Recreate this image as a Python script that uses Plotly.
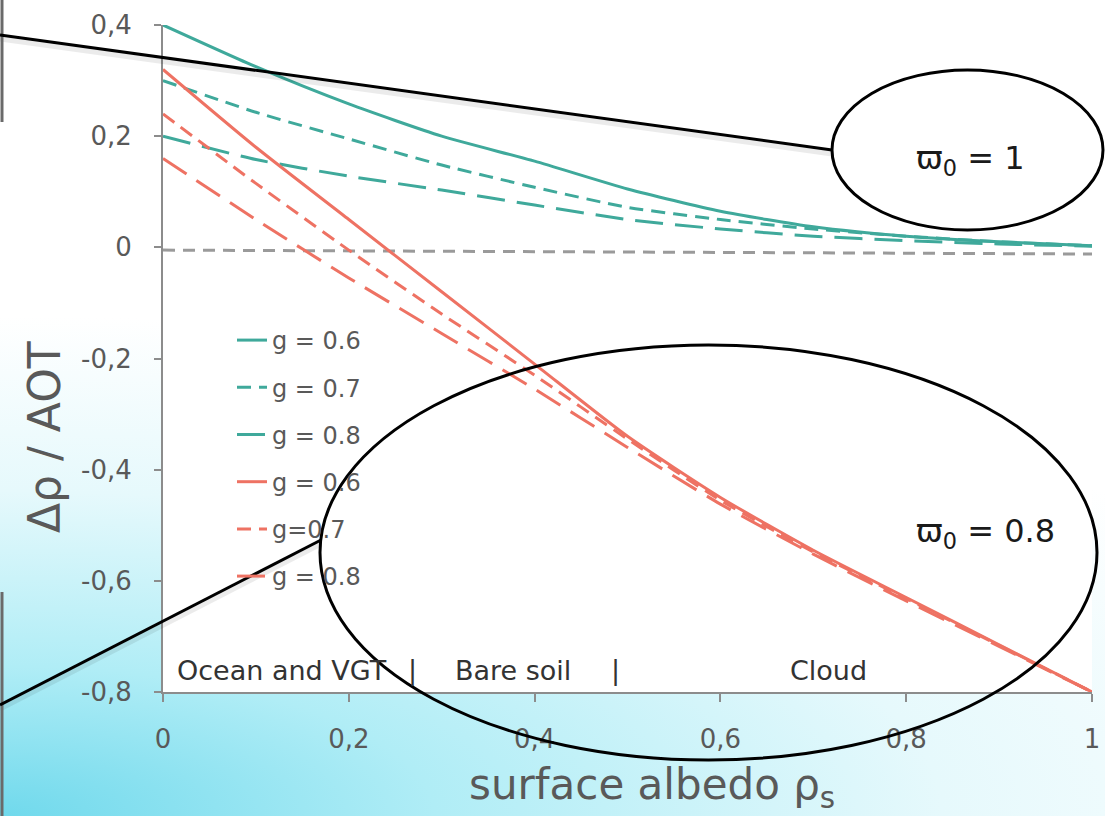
import base64
import plotly.graph_objects as go

# ---------------- data ----------------
rho = [0.0, 0.1, 0.2, 0.3, 0.4, 0.5, 0.6, 0.7, 0.8, 0.9, 1.0]

# single scattering albedo = 1 (teal)
w1_g06 = [0.400, 0.325, 0.258, 0.200, 0.155, 0.105, 0.065, 0.037, 0.020, 0.010, 0.003]
w1_g07 = [0.300, 0.243, 0.195, 0.148, 0.108, 0.072, 0.050, 0.033, 0.020, 0.010, 0.003]
w1_g08 = [0.200, 0.158, 0.128, 0.103, 0.076, 0.050, 0.033, 0.020, 0.012, 0.006, 0.002]

# single scattering albedo = 0.8 (red)
w08_g06 = [0.320, 0.180, 0.050, -0.080, -0.210, -0.340, -0.450, -0.545, -0.630, -0.715, -0.800]
w08_g07 = [0.240, 0.115, -0.005, -0.120, -0.230, -0.345, -0.455, -0.548, -0.632, -0.716, -0.800]
w08_g08 = [0.160, 0.050, -0.055, -0.155, -0.255, -0.360, -0.462, -0.552, -0.636, -0.718, -0.800]

zero_x = [0.0, 1.0]
zero_y = [-0.005, -0.012]

legend_names = ["g = 0.6", "g = 0.7", "g = 0.8", "g = 0.6", "g=0.7", "g = 0.8"]

x_tickvals = [0, 0.2, 0.4, 0.6, 0.8, 1.0]
x_ticktext = ["0", "0,2", "0,4", "0,6", "0,8", "1"]
y_tickvals = [-0.8, -0.6, -0.4, -0.2, 0, 0.2, 0.4]
y_ticktext = ["-0,8", "-0,6", "-0,4", "-0,2", "0", "0,2", "0,4"]

region_labels = ["Ocean and VGT", "|", "Bare soil", "|", "Cloud"]

# ---------------- layout helpers ----------------
W, H = 1105, 816
L, R, T, B = 163, 13, 25, 124
PW, PH = W - L - R, H - T - B


def px(x):
    return (x - L) / PW


def py(y):
    return (H - B - y) / PH


TEAL = "#3fa99b"
RED = "#ee7263"
GREY_TXT = "#595959"
FONT = "DejaVu Sans"

fig = go.Figure()

fig.add_trace(go.Scatter(x=zero_x, y=zero_y, mode="lines", showlegend=False,
                         line=dict(color="#9a9a9a", width=3, dash="12px,8px"),
                         cliponaxis=False, hoverinfo="skip"))

series = [
    (w1_g06, TEAL, "solid"),
    (w1_g07, TEAL, "14px,8px"),
    (w1_g08, TEAL, "28px,12px"),
    (w08_g06, RED, "solid"),
    (w08_g07, RED, "14px,8px"),
    (w08_g08, RED, "28px,12px"),
]
for i, (ys, col, dash) in enumerate(series):
    fig.add_trace(go.Scatter(x=rho, y=ys, mode="lines", name=legend_names[i],
                             legendgroup=f"g{i}",
                             line=dict(color=col, width=3, dash=dash, shape="spline", smoothing=0.6),
                             cliponaxis=False))

# ---------------- background gradient ----------------
plot_rect = f'<rect x="{L}" y="{T}" width="{PW}" height="{PH}" fill="#ffffff"/>'
svg = f'''<svg xmlns="http://www.w3.org/2000/svg" width="{W}" height="{H}" viewBox="0 0 {W} {H}">
<defs>
<radialGradient id="g" gradientUnits="userSpaceOnUse" cx="0" cy="{H}" r="1"
 gradientTransform="translate(0 {H}) scale(1450 500) translate(0 -{H})">
<stop offset="0" stop-color="#70d9ec"/>
<stop offset="0.3" stop-color="#b0edf6"/>
<stop offset="0.65" stop-color="#e6f9fc"/>
<stop offset="1" stop-color="#ffffff"/>
</radialGradient>
</defs>
<rect x="0" y="0" width="{W}" height="{H}" fill="url(#g)"/>
{plot_rect}
</svg>'''
src = "data:image/svg+xml;base64," + base64.b64encode(svg.encode()).decode()

fig.add_layout_image(dict(source=src, xref="paper", yref="paper",
                          x=px(0), y=py(0), sizex=W / PW, sizey=H / PH,
                          xanchor="left", yanchor="top", sizing="stretch", layer="below"))

# ---------------- shapes (callouts) ----------------
shapes = []


def line(x0, y0, x1, y1, color="black", width=3):
    shapes.append(dict(type="line", xref="paper", yref="paper",
                       x0=px(x0), y0=py(y0), x1=px(x1), y1=py(y1),
                       line=dict(color=color, width=width), layer="above"))


def ellipse(x0, y0, x1, y1):
    shapes.append(dict(type="circle", xref="paper", yref="paper",
                       x0=px(x0), y0=py(y1), x1=px(x1), y1=py(y0),
                       line=dict(color="black", width=3), layer="above"))


# subtle shadows
line(0, 39, 832, 154, color="rgba(0,0,0,0.08)", width=5)
line(0, 709, 321, 544, color="rgba(0,0,0,0.08)", width=5)
# left-edge grey lines
line(2, 0, 2, 122, color="#6a6a6a", width=3)
line(2, 592, 2, 816, color="#6a6a6a", width=3)
# callout lines and ellipses
line(0, 35, 832, 150)
ellipse(832, 70, 1103, 230)
line(0, 705, 321, 540)
ellipse(320, 345, 1097, 760)

# ---------------- annotations ----------------
ann = []


def text(x, y, s, size, color, angle=0):
    ann.append(dict(x=px(x), y=py(y), xref="paper", yref="paper", text=s, showarrow=False,
                    xanchor="center", yanchor="middle", textangle=angle,
                    font=dict(family=FONT, size=size, color=color)))


text(970, 160, "ϖ<sub>0</sub> = 1", 32, "#1a1a1a")
text(985, 533, "ϖ<sub>0</sub> = 0.8", 32, "#1a1a1a")
text(45, 437, "Δρ / AOT", 44, GREY_TXT, angle=-90)
text(652, 787, "surface albedo ρ<sub>s</sub>", 42, GREY_TXT)

region_x = [282, 412, 513, 615, 828]
for xx, s in zip(region_x, region_labels):
    text(xx, 670, s, 27, "#333333")

fig.update_layout(
    width=W, height=H,
    margin=dict(l=L, r=R, t=T, b=B, autoexpand=False),
    paper_bgcolor="white", plot_bgcolor="white",
    font=dict(family=FONT, color=GREY_TXT),
    shapes=shapes, annotations=ann,
    showlegend=True,
    legend=dict(x=px(232), y=py(318), xanchor="left", yanchor="top",
                bgcolor="rgba(0,0,0,0)", font=dict(family=FONT, size=24, color=GREY_TXT),
                tracegroupgap=13, itemwidth=30),
)
fig.update_xaxes(range=[0, 1], showgrid=False, zeroline=False, showline=True,
                 linecolor="#8c8c8c", linewidth=2, ticks="outside", ticklen=8,
                 tickcolor="#8c8c8c", tickwidth=2,
                 tickvals=x_tickvals, ticktext=x_ticktext, ticklabelstandoff=15,
                 tickfont=dict(family=FONT, size=26, color=GREY_TXT))
fig.update_yaxes(range=[-0.8, 0.4], showgrid=False, zeroline=False, showline=True,
                 linecolor="#8c8c8c", linewidth=2, ticks="outside", ticklen=7,
                 tickcolor="#8c8c8c", tickwidth=2,
                 tickvals=y_tickvals, ticktext=y_ticktext, ticklabelstandoff=17,
                 tickfont=dict(family=FONT, size=26, color=GREY_TXT))

fig.write_html("out.html")
